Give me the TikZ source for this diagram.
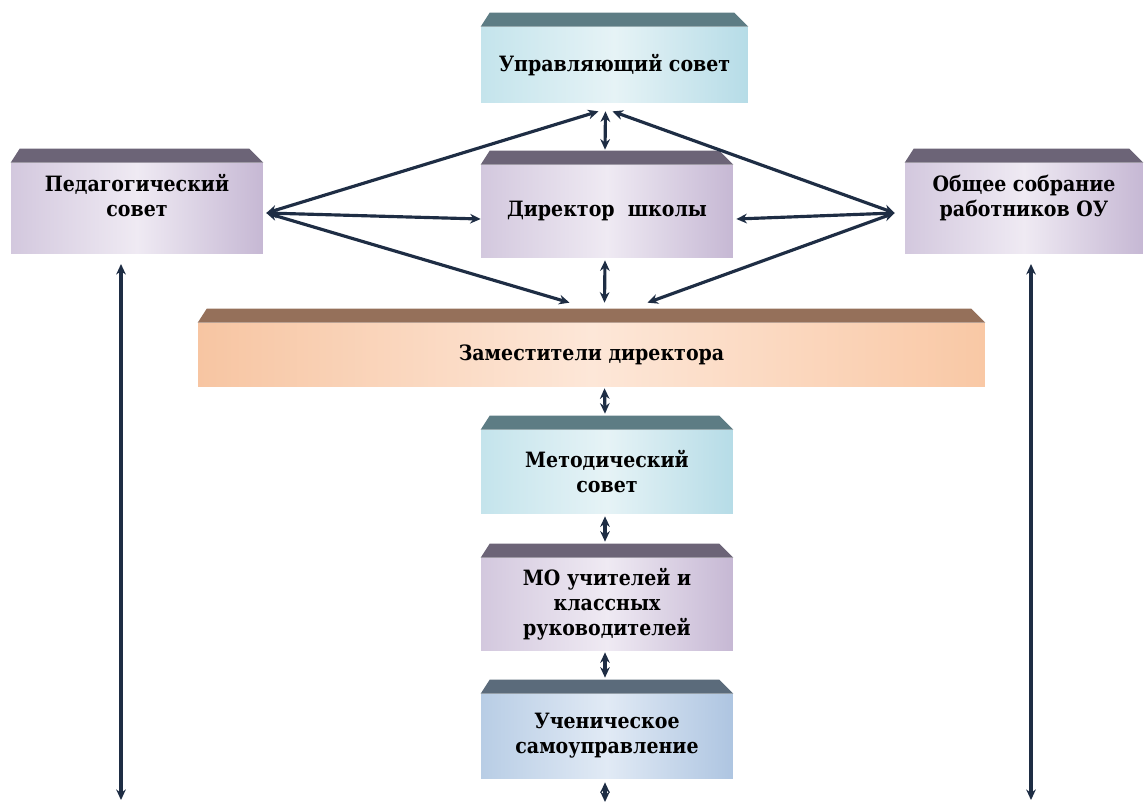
\documentclass[tikz,border=0pt]{standalone}
\usepackage{fontspec}
\IfFontExistsTF{DejaVu Serif Condensed}
  {\setmainfont{DejaVu Serif Condensed}}
  {\setmainfont{DejaVu Serif}}
\usetikzlibrary{calc,arrows.meta}

\definecolor{linkcol}{HTML}{1E2D44}
\definecolor{tealtop}{HTML}{5D7C84}
\definecolor{purptop}{HTML}{6C6477}
\definecolor{browntop}{HTML}{95705A}
\definecolor{slatetop}{HTML}{5B6B7B}
\definecolor{tealA}{HTML}{C4E4EC}
\definecolor{tealB}{HTML}{E6F3F6}
\definecolor{tealC}{HTML}{B6DCE7}
\definecolor{purpA}{HTML}{D3C8DE}
\definecolor{purpB}{HTML}{EFEAF3}
\definecolor{purpC}{HTML}{C6B8D4}
\definecolor{peachA}{HTML}{F7C5A2}
\definecolor{peachB}{HTML}{FDE7D8}
\definecolor{peachC}{HTML}{F9C8A5}
\definecolor{slateA}{HTML}{B8CDE5}
\definecolor{slateB}{HTML}{E1EAF5}
\definecolor{slateC}{HTML}{AEC5E1}

\tikzset{
  unit/.style={rectangle, align=center, inner sep=2pt,
    font=\bfseries\fontsize{12}{14.3}\selectfont},
  tealbox/.style={unit, left color=tealA, right color=tealC, middle color=tealB},
  purpbox/.style={unit, left color=purpA, right color=purpC, middle color=purpB},
  peachbox/.style={unit, left color=peachA, right color=peachC, middle color=peachB},
  slatebox/.style={unit, left color=slateA, right color=slateC, middle color=slateB},
  raised/.style={text depth=14pt},
  link/.style={linkcol, line width=1.8pt, {Stealth[length=6pt,width=5.5pt]}-{Stealth[length=6pt,width=5.5pt]}},
}

% top band of a box
\newcommand{\boxtop}[2]{
  \fill[#2] (#1.north west) -- ++(9,-14) -- ($(#1.north east)+(-14,-14)$) -- (#1.north east) -- cycle;
}

\begin{document}
\begin{tikzpicture}[x=0.02cm,y=-0.02cm]
  \useasboundingbox (0,0) rectangle (1145,802);

  % boxes
  \node[tealbox, minimum width=5.34cm, minimum height=1.52cm] (upr) at (614.5,65) {Управляющий совет};
  \node[purpbox, raised, minimum width=5.04cm, minimum height=1.80cm] (ped) at (137,208) {Педагогический\\совет};
  \node[purpbox, minimum width=5.04cm, minimum height=1.84cm] (dir) at (607,211) {Директор\ \ школы};
  \node[purpbox, raised, minimum width=4.76cm, minimum height=1.80cm] (obs) at (1024,208) {Общее собрание\\работников ОУ};
  \node[peachbox, minimum width=15.74cm, minimum height=1.26cm] (zam) at (591.5,354.5) {Заместители директора};
  \node[tealbox, minimum width=5.04cm, minimum height=1.66cm] (met) at (607,471.5) {Методический\\совет};
  \node[purpbox, minimum width=5.04cm, minimum height=1.84cm] (mo) at (607,604) {МО учителей и\\классных\\руководителей};
  \node[slatebox, minimum width=5.04cm, minimum height=1.68cm] (uch) at (607,736) {Ученическое\\самоуправление};

  \boxtop{upr}{tealtop}
  \boxtop{ped}{purptop}
  \boxtop{dir}{purptop}
  \boxtop{obs}{purptop}
  \boxtop{zam}{browntop}
  \boxtop{met}{tealtop}
  \boxtop{mo}{purptop}
  \boxtop{uch}{slatetop}

  % joints
  \coordinate (pedR) at ($(ped.east)+(3,5)$);
  \coordinate (obsL) at ($(obs.west)+(-10,5)$);
  \coordinate (uprL) at ($(upr.south)+(-16,8)$);
  \coordinate (uprR) at ($(upr.south)+(-2,8)$);
  \coordinate (zamL) at ($(zam.north)+(-22,-20)$);
  \coordinate (zamR) at ($(zam.north)+(56,-20)$);
  \coordinate (pedB) at (121,800);
  \coordinate (obsB) at (1031,800);
  \coordinate (uchB) at (605,802);

  % connectors
  \draw[link] (pedR) -- (uprL);
  \draw[link] (obsL) -- (uprR);
  \draw[link] (pedR) -- ($(dir.west)+(0,8)$);
  \draw[link] (obsL) -- ($(dir.east)+(3,8)$);
  \draw[link] (pedR) -- (zamL);
  \draw[link] (obsL) -- (zamR);
  \draw[link] ($(upr.south)+(-9,8)$) -- ($(dir.north)+(-2,-15)$);
  \draw[link] ($(dir.south)+(-2,3)$) -- ($(zam.north)+(13,-20)$);
  \draw[link] ($(zam.south)+(13,2)$) -- ($(met.north)+(-2,-16)$);
  \draw[link] ($(met.south)+(-2,3)$) -- ($(mo.north)+(-2,-16)$);
  \draw[link] ($(mo.south)+(-2,2)$) -- ($(uch.north)+(-2,-16)$);
  \draw[link] ($(uch.south)+(-2,4)$) -- (uchB);
  \draw[link] (121,264) -- (pedB);
  \draw[link] (1031,264) -- (obsB);
\end{tikzpicture}
\end{document}
